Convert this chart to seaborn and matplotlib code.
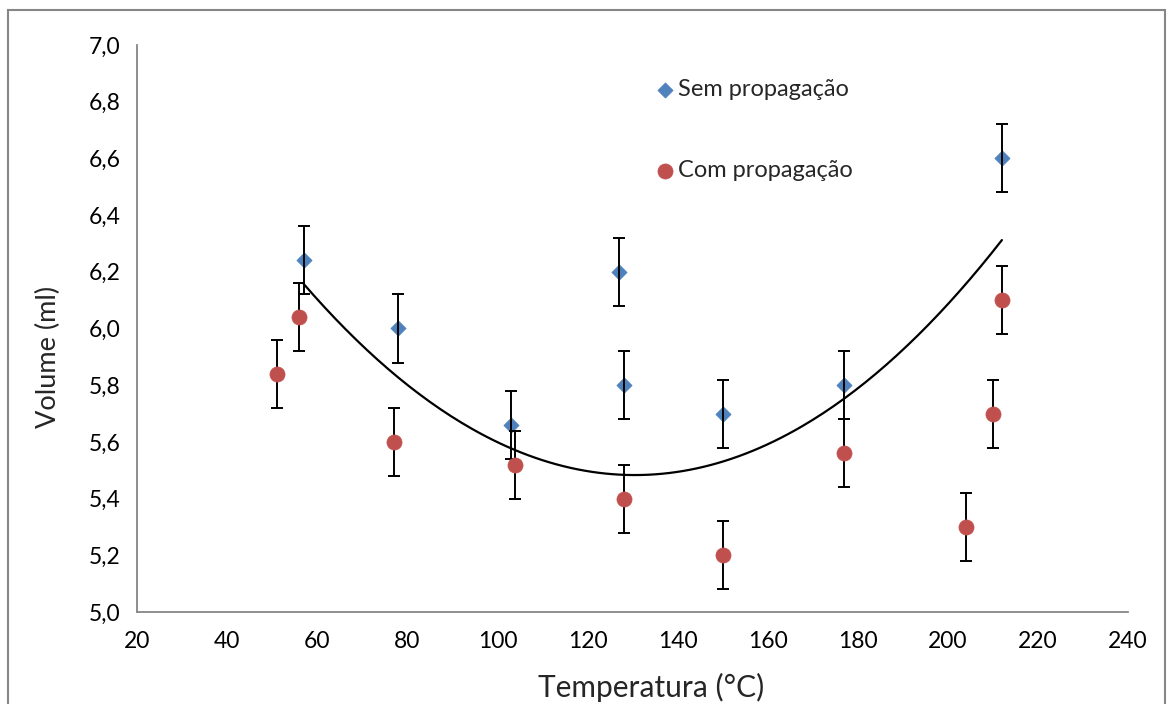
import numpy as np
import pandas as pd
import matplotlib
matplotlib.use("Agg")
import matplotlib.pyplot as plt
from matplotlib.patches import Rectangle
import seaborn as sns

# Measured volumes (ml) at each temperature (°C)
sem_temp = [57, 78, 103, 127, 128, 150, 177, 212]
sem_vol = [6.24, 6.00, 5.66, 6.20, 5.80, 5.70, 5.80, 6.60]

com_temp = [51, 56, 77, 104, 128, 150, 177, 204, 210, 212]
com_vol = [5.84, 6.04, 5.60, 5.52, 5.40, 5.20, 5.56, 5.30, 5.70, 6.10]

vol_err = 0.12

# polynomial trend line (2nd order): a*T^2 + b*T + c
trend_coef = [1.248e-4, -0.032573, 7.6084]
trend_range = [57, 212]

x_ticks = [20, 40, 60, 80, 100, 120, 140, 160, 180, 200, 220, 240]
y_ticks = [5.0, 5.2, 5.4, 5.6, 5.8, 6.0, 6.2, 6.4, 6.6, 6.8, 7.0]

BLUE = "#4F81BD"
RED = "#C0504D"
GRAY = "#868686"

sns.set_style("white")
plt.rcParams["font.family"] = ["Lato", "DejaVu Sans"]

fig = plt.figure(figsize=(11.68, 7.04), dpi=100)
ax = fig.add_axes([0.1173, 0.1307, 0.8485, 0.8054])

# outer chart frame
fig.patches.append(Rectangle((8 / 1168, -0.05), (1165 - 8) / 1168, 1.05 - 10 / 704,
                             transform=fig.transFigure, fill=False,
                             edgecolor=GRAY, linewidth=1.5, zorder=0))

sem = pd.DataFrame({"Temperatura": sem_temp, "Volume": sem_vol})
com = pd.DataFrame({"Temperatura": com_temp, "Volume": com_vol})

tt = np.linspace(trend_range[0], trend_range[1], 200)
trend = pd.DataFrame({"Temperatura": tt, "Volume": np.polyval(trend_coef, tt)})
sns.lineplot(data=trend, x="Temperatura", y="Volume", ax=ax, color="black",
             linewidth=1.6, zorder=2)

sns.scatterplot(data=sem, x="Temperatura", y="Volume", ax=ax, marker="D",
                s=60, color=BLUE, edgecolor=BLUE, linewidth=0.5, zorder=3,
                label="Sem propagação")
ax.errorbar(sem_temp, sem_vol, yerr=vol_err, fmt="none", ecolor="black",
            elinewidth=1.4, capsize=4.3, capthick=1.4, zorder=4)
ax.errorbar(com_temp, com_vol, yerr=vol_err, fmt="none", ecolor="black",
            elinewidth=1.4, capsize=4.3, capthick=1.4, zorder=4)
sns.scatterplot(data=com, x="Temperatura", y="Volume", ax=ax, marker="o",
                s=118, color=RED, edgecolor=RED, linewidth=0.5, zorder=5,
                label="Com propagação")

ax.set_xlim(20, 240)
ax.set_ylim(5.0, 7.0)
ax.set_xticks(x_ticks)
ax.set_yticks(y_ticks)
ax.set_xticklabels([str(v) for v in x_ticks])
ax.set_yticklabels([f"{v:.1f}".replace(".", ",") for v in y_ticks])

for side in ("top", "right"):
    ax.spines[side].set_visible(False)
for side in ("left", "bottom"):
    ax.spines[side].set_color(GRAY)
    ax.spines[side].set_linewidth(1.3)
ax.tick_params(axis="both", direction="out", length=6, width=1.3, color=GRAY,
               labelsize=16.5, labelcolor="black", pad=6)
ax.tick_params(axis="x", pad=8)
ax.grid(False)

ax.set_xlabel("Temperatura (°C)", fontsize=21.5)
ax.set_ylabel("Volume (ml)", fontsize=19.5)
ax.xaxis.set_label_coords(0.5187, -0.107)
ax.yaxis.set_label_coords(-0.077, 0.449)

leg = ax.legend(loc="upper left", bbox_to_anchor=(0.5115, 0.957), frameon=False,
                fontsize=17, handletextpad=0.05, labelspacing=2.55,
                handlelength=1.0, borderaxespad=0)

fig.savefig("out.png", dpi=100)
